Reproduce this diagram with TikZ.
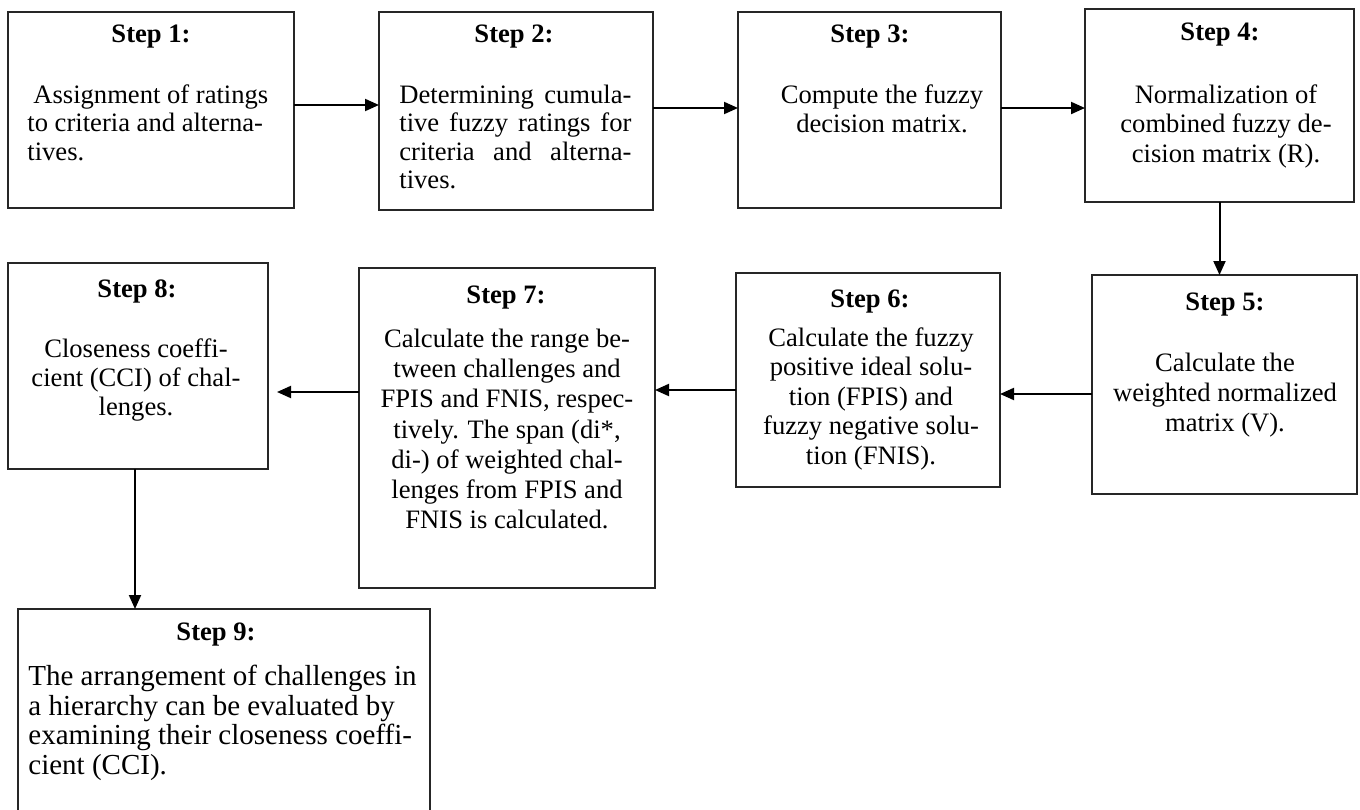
\documentclass[tikz,border=0pt]{standalone}
\usepackage{fontspec}
\setmainfont{Liberation Serif}
\usetikzlibrary{arrows.meta}
\newcommand\bfs[1]{\fontsize{13.3pt}{#1}\selectfont}
\tikzset{
  stepbox/.style={draw=black!85, line width=0.75pt, inner sep=0pt, outer sep=0pt},
  title/.style={font=\bfseries\bfs{14.75pt}, inner sep=0pt, anchor=base},
  body/.style={inner sep=0pt, anchor=north},
  arr/.style={line width=1pt, -{Triangle[length=7pt,width=6pt]}}
}
\begin{document}
\begin{tikzpicture}[x=0.5pt,y=-0.5pt]
\useasboundingbox (0,0) rectangle (1360,809);
\clip (0,0) rectangle (1360,809);
% boxes
\node[stepbox, minimum width=143pt, minimum height=98pt] (b1) at (151,110) {};
\node[stepbox, minimum width=137pt, minimum height=99pt] (b2) at (516,111) {};
\node[stepbox, minimum width=131.5pt, minimum height=98pt] (b3) at (869.5,110) {};
\node[stepbox, minimum width=134.5pt, minimum height=96.5pt] (b4) at (1219.5,105.5) {};
\node[stepbox, minimum width=132.5pt, minimum height=109.5pt] (b5) at (1224.5,384.5) {};
\node[stepbox, minimum width=132pt, minimum height=107pt] (b6) at (868,380) {};
\node[stepbox, minimum width=148pt, minimum height=160pt] (b7) at (507,428) {};
\node[stepbox, minimum width=130pt, minimum height=103pt] (b8) at (138,366) {};
\node[stepbox, minimum width=206pt, minimum height=125pt] (b9) at (224,734) {};
% titles
\node[title] (t1) at (151,42) {Step 1:};
\node[title] (t2) at (514,42) {Step 2:};
\node[title] (t3) at (870,42) {Step 3:};
\node[title] (t4) at (1220,40) {Step 4:};
\node[title] (t5) at (1225,310) {Step 5:};
\node[title] (t6) at (870,307) {Step 6:};
\node[title] (t7) at (506,303) {Step 7:};
\node[title] (t8) at (137,297) {Step 8:};
\node[title] (t9) at (216,640) {Step 9:};
% bodies
\node[body, anchor=north west, align=left, font=\bfs{14.25pt}] (d1) at (27,83)
  {\strut\hspace*{3pt}Assignment of ratings\\to criteria and alterna-\\tives.};
\node[body, anchor=north west, align=justify, text width=116pt, font=\bfs{14.25pt}] (d2) at (399,83)
  {\strut Determining cumula-\linebreak tive fuzzy ratings for\linebreak criteria and alterna-\linebreak tives.};
\node[body, align=center, font=\bfs{14.75pt}] (d3) at (882,82.4)
  {\strut Compute the fuzzy\\decision matrix.};
\node[body, align=center, font=\bfs{14.75pt}] (d4) at (1226,82.4)
  {\strut Normalization of\\combined fuzzy de-\\cision matrix (R).};
\node[body, align=center, font=\bfs{15pt}] (d5) at (1225,350)
  {\strut Calculate the\\weighted normalized\\matrix (V).};
\node[body, align=center, font=\bfs{14.75pt}] (d6) at (871,325)
  {\strut Calculate the fuzzy\\positive ideal solu-\\tion (FPIS) and\\fuzzy negative solu-\\tion (FNIS).};
\node[body, align=center, font=\bfs{15.15pt}] (d7) at (507,325.5)
  {\strut Calculate the range be-\\tween challenges and\\FPIS and FNIS, respec-\\tively. The span (di*,\\di-) of weighted chal-\\lenges from FPIS and\\FNIS is calculated.};
\node[body, align=center, font=\bfs{14.5pt}] (d8) at (136,336.7)
  {\strut Closeness coeffi-\\cient (CCI) of chal-\\lenges.};
\node[body, anchor=north west, align=left, font=\fontsize{14.5pt}{14.8pt}\selectfont] (d9) at (28,664.3)
  {\strut The arrangement of challenges in\\a hierarchy can be evaluated by\\examining their closeness coeffi-\\cient (CCI).};
% connectors
\draw[arr] (b1.east |- 0,105) -- (b2.west |- 0,105);
\draw[arr] (b2.east |- 0,108) -- (b3.west |- 0,108);
\draw[arr] (b3.east |- 0,108) -- (b4.west |- 0,108);
\draw[arr] (b4.south) -- (b4.south |- b5.north);
\draw[arr] (b5.west |- 0,394) -- (b6.east |- 0,394);
\draw[arr] (b6.west |- 0,390) -- (b7.east |- 0,390);
\draw[arr, shorten >=4.5pt] (b7.west |- 0,392) -- (b8.east |- 0,392);
\draw[arr] (b8.south -| 135,0) -- (b9.north -| 135,0);
\end{tikzpicture}
\end{document}
